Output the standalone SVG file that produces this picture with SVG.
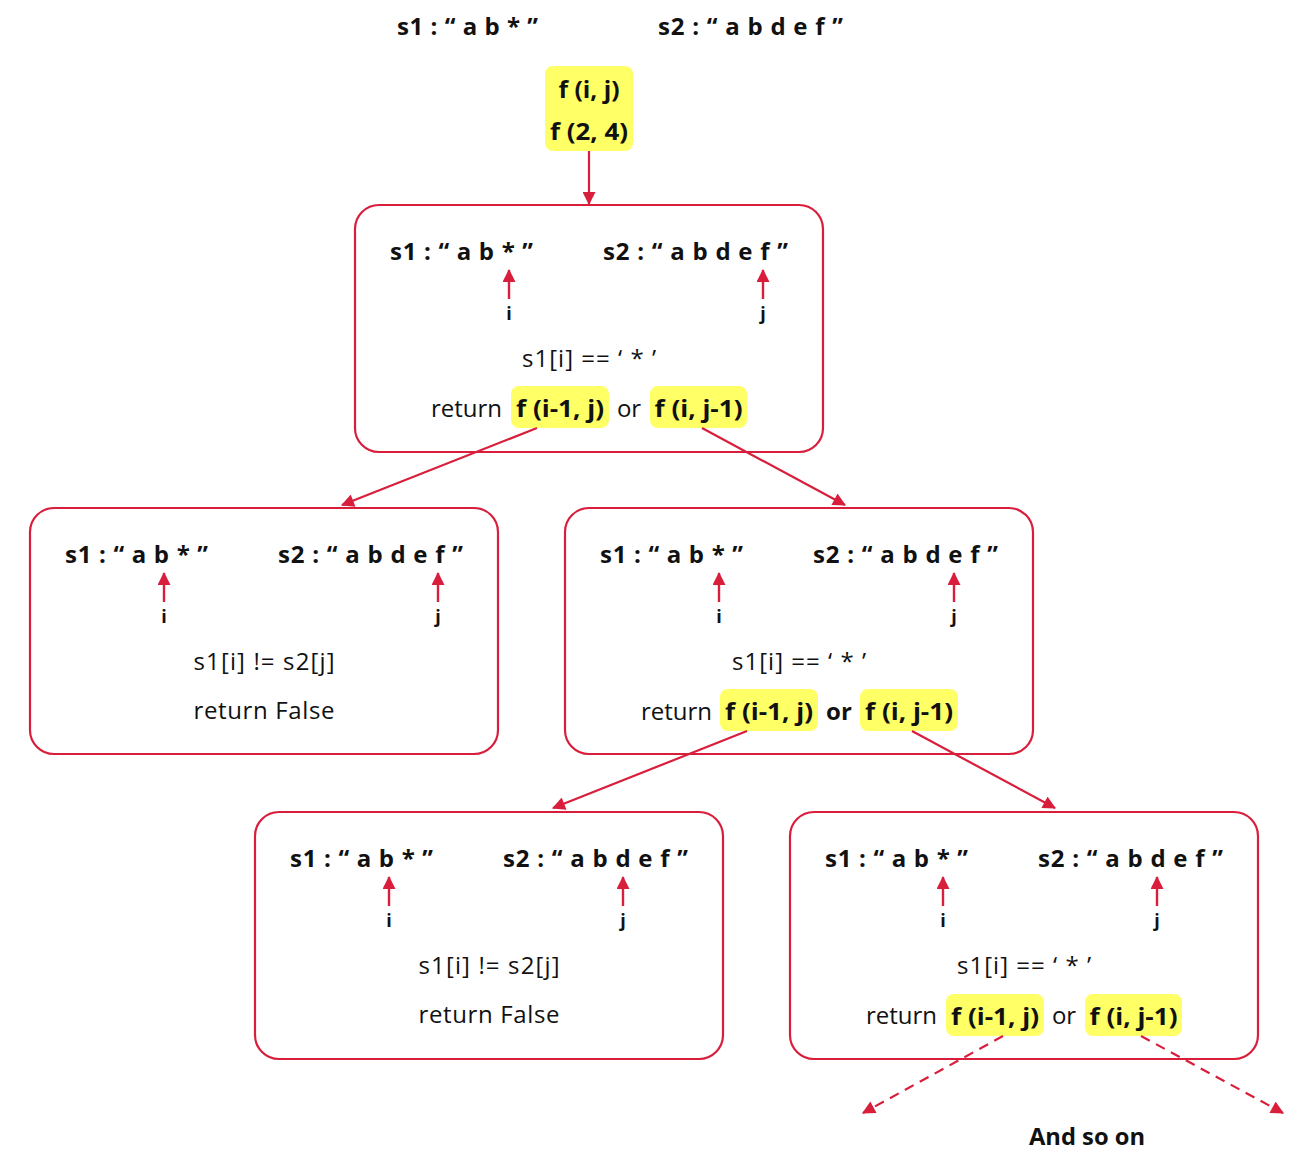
<svg xmlns="http://www.w3.org/2000/svg" width="1303" height="1175" viewBox="0 0 1303 1175">
<style>
  .box { fill: #ffffff; stroke: #d91e3c; stroke-width: 2.2; }
  .hl { fill: #ffff66; }
  .b { font-family: "Open Sans", "Noto Sans", sans-serif; font-weight: 700; fill: #111; }
  .r { font-family: "Open Sans", "Noto Sans", sans-serif; font-weight: 400; fill: #111; }
  .str { font-size: 24px; }
  .lbl { font-size: 18px; text-anchor: middle; }
  .txt { font-size: 24px; }
  .mid { text-anchor: middle; }
  .end { text-anchor: end; }
  .ptr { stroke: #d91e3c; stroke-width: 2.4; fill: none; }
  .con { stroke: #d91e3c; stroke-width: 2.2; fill: none; }
  .dash { stroke-dasharray: 10 7; }
</style>
<defs>
  <marker id="ah" viewBox="0 0 12 12" refX="11" refY="6" markerWidth="14" markerHeight="13" markerUnits="userSpaceOnUse" orient="auto">
    <path d="M0,0 L12,6 L0,12 z" fill="#d91e3c"/>
  </marker>
</defs>
<rect width="1303" height="1175" fill="#ffffff"/>

<g id="title">
  <text class="b str" x="397" y="35" textLength="141" lengthAdjust="spacing">s1 : “ a b * ”</text>
  <text class="b str" x="658" y="35" textLength="185" lengthAdjust="spacing">s2 : “ a b d e f ”</text>
</g>

<g id="root">
  <rect class="hl" x="545" y="66" width="88" height="85" rx="8"/>
  <text class="b txt mid" x="589" y="98" textLength="61" lengthAdjust="spacingAndGlyphs">f (i, j)</text>
  <text class="b txt mid" x="589" y="140" textLength="78" lengthAdjust="spacingAndGlyphs">f (2, 4)</text>
</g>

<g id="node1">
  <rect class="box" x="355" y="205" width="468" height="247" rx="24"/>
  <text class="b str" x="390" y="260" textLength="143" lengthAdjust="spacing">s1 : “ a b * ”</text>
  <text class="b str" x="603" y="260" textLength="185" lengthAdjust="spacing">s2 : “ a b d e f ”</text>
  <line class="ptr" x1="509" y1="299" x2="509" y2="270" marker-end="url(#ah)"/>
  <text class="b lbl" x="509" y="320">i</text>
  <line class="ptr" x1="763" y1="299" x2="763" y2="270" marker-end="url(#ah)"/>
  <text class="b lbl" x="763" y="320">j</text>
  <text class="r txt mid" x="589" y="367" textLength="134" lengthAdjust="spacing">s1[i] == ‘ * ’</text>
  <text class="r txt end" x="502" y="417">return</text>
  <rect class="hl" x="511" y="386" width="98" height="42" rx="8"/>
  <text class="b txt mid" x="560" y="417" textLength="88" lengthAdjust="spacingAndGlyphs">f (i-1, j)</text>
  <text class="r txt mid" x="629" y="417">or</text>
  <rect class="hl" x="650" y="386" width="97" height="42" rx="8"/>
  <text class="b txt mid" x="698.5" y="417" textLength="88" lengthAdjust="spacingAndGlyphs">f (i, j-1)</text>
</g>

<g id="node2">
  <rect class="box" x="30" y="508" width="468" height="246" rx="24"/>
  <text class="b str" x="65" y="563" textLength="143" lengthAdjust="spacing">s1 : “ a b * ”</text>
  <text class="b str" x="278" y="563" textLength="185" lengthAdjust="spacing">s2 : “ a b d e f ”</text>
  <line class="ptr" x1="164" y1="602" x2="164" y2="573" marker-end="url(#ah)"/>
  <text class="b lbl" x="164" y="623">i</text>
  <line class="ptr" x1="438" y1="602" x2="438" y2="573" marker-end="url(#ah)"/>
  <text class="b lbl" x="438" y="623">j</text>
  <text class="r txt mid" x="264" y="670" textLength="141" lengthAdjust="spacing">s1[i] != s2[j]</text>
  <text class="r txt mid" x="264" y="719" textLength="141" lengthAdjust="spacing">return False</text>
</g>

<g id="node3">
  <rect class="box" x="565" y="508" width="468" height="246" rx="24"/>
  <text class="b str" x="600" y="563" textLength="143" lengthAdjust="spacing">s1 : “ a b * ”</text>
  <text class="b str" x="813" y="563" textLength="185" lengthAdjust="spacing">s2 : “ a b d e f ”</text>
  <line class="ptr" x1="719" y1="602" x2="719" y2="573" marker-end="url(#ah)"/>
  <text class="b lbl" x="719" y="623">i</text>
  <line class="ptr" x1="954" y1="602" x2="954" y2="573" marker-end="url(#ah)"/>
  <text class="b lbl" x="954" y="623">j</text>
  <text class="r txt mid" x="799" y="670" textLength="134" lengthAdjust="spacing">s1[i] == ‘ * ’</text>
  <text class="r txt end" x="712" y="720">return</text>
  <rect class="hl" x="720" y="689" width="98" height="42" rx="8"/>
  <text class="b txt mid" x="769" y="720" textLength="88" lengthAdjust="spacingAndGlyphs">f (i-1, j)</text>
  <text class="b txt mid" x="839" y="720">or</text>
  <rect class="hl" x="860" y="689" width="98" height="42" rx="8"/>
  <text class="b txt mid" x="909" y="720" textLength="88" lengthAdjust="spacingAndGlyphs">f (i, j-1)</text>
</g>

<g id="node4">
  <rect class="box" x="255" y="812" width="468" height="247" rx="24"/>
  <text class="b str" x="290" y="867" textLength="143" lengthAdjust="spacing">s1 : “ a b * ”</text>
  <text class="b str" x="503" y="867" textLength="185" lengthAdjust="spacing">s2 : “ a b d e f ”</text>
  <line class="ptr" x1="389" y1="906" x2="389" y2="877" marker-end="url(#ah)"/>
  <text class="b lbl" x="389" y="927">i</text>
  <line class="ptr" x1="623" y1="906" x2="623" y2="877" marker-end="url(#ah)"/>
  <text class="b lbl" x="623" y="927">j</text>
  <text class="r txt mid" x="489" y="974" textLength="141" lengthAdjust="spacing">s1[i] != s2[j]</text>
  <text class="r txt mid" x="489" y="1023" textLength="141" lengthAdjust="spacing">return False</text>
</g>

<g id="node5">
  <rect class="box" x="790" y="812" width="468" height="247" rx="24"/>
  <text class="b str" x="825" y="867" textLength="143" lengthAdjust="spacing">s1 : “ a b * ”</text>
  <text class="b str" x="1038" y="867" textLength="185" lengthAdjust="spacing">s2 : “ a b d e f ”</text>
  <line class="ptr" x1="943" y1="906" x2="943" y2="877" marker-end="url(#ah)"/>
  <text class="b lbl" x="943" y="927">i</text>
  <line class="ptr" x1="1157" y1="906" x2="1157" y2="877" marker-end="url(#ah)"/>
  <text class="b lbl" x="1157" y="927">j</text>
  <text class="r txt mid" x="1024" y="974" textLength="134" lengthAdjust="spacing">s1[i] == ‘ * ’</text>
  <text class="r txt end" x="937" y="1024">return</text>
  <rect class="hl" x="946" y="994" width="98" height="42" rx="8"/>
  <text class="b txt mid" x="995" y="1025" textLength="88" lengthAdjust="spacingAndGlyphs">f (i-1, j)</text>
  <text class="r txt mid" x="1064" y="1024">or</text>
  <rect class="hl" x="1085" y="994" width="97" height="42" rx="8"/>
  <text class="b txt mid" x="1133.5" y="1025" textLength="88" lengthAdjust="spacingAndGlyphs">f (i, j-1)</text>
</g>

<g id="andsoon">
  <text class="b txt" x="1029" y="1145" textLength="116" lengthAdjust="spacingAndGlyphs">And so on</text>
</g>

<g id="connectors">
  <line class="con" x1="589" y1="151" x2="589" y2="204" marker-end="url(#ah)"/>
  <line class="con" x1="537" y1="428" x2="342" y2="505" marker-end="url(#ah)"/>
  <line class="con" x1="702" y1="428" x2="845" y2="505" marker-end="url(#ah)"/>
  <line class="con" x1="747" y1="731" x2="553" y2="808" marker-end="url(#ah)"/>
  <line class="con" x1="912" y1="731" x2="1055" y2="808" marker-end="url(#ah)"/>
  <line class="con dash" x1="1003" y1="1036" x2="863" y2="1113" marker-end="url(#ah)"/>
  <line class="con dash" x1="1141" y1="1036" x2="1283" y2="1113" marker-end="url(#ah)"/>
</g>
</svg>
